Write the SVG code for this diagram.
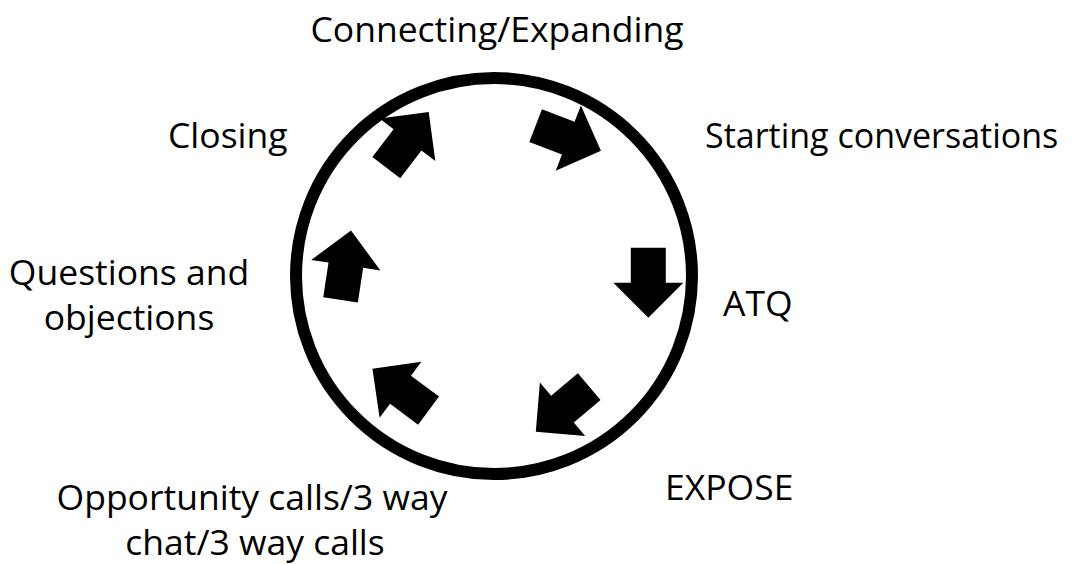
<svg xmlns="http://www.w3.org/2000/svg" width="1077" height="564" viewBox="0 0 1077 564">
<style>
text{font-family:"Open Sans","Noto Sans",sans-serif;font-size:35.5px;fill:#000}
.arrow{fill:#000}
</style>
<defs>
<path id="blk" d="M-17.5,-35 L17.5,-35 L17.5,0 L35,0 L0,35 L-35,0 L-17.5,0 Z"/>
</defs>
<rect width="1077" height="564" fill="#fff"/>
<g id="cycle">
<circle cx="494" cy="276" r="198" fill="none" stroke="#000" stroke-width="12"/>
</g>
<g id="connectors">
<use href="#blk" class="arrow" transform="translate(568.3,138.2) rotate(-68.9)"/>
<use href="#blk" class="arrow" transform="translate(648.3,282.7)"/>
<use href="#blk" class="arrow" transform="translate(562.5,409.2) rotate(49.7)"/>
<use href="#blk" class="arrow" transform="translate(400.5,389.7) rotate(126.7)"/>
<use href="#blk" class="arrow" transform="translate(345.8,265.2) rotate(-171.4)"/>
<use href="#blk" class="arrow" transform="translate(407.5,139.8) rotate(-142.7)"/>
</g>
<g id="n1"><text x="497" y="42" text-anchor="middle">Connecting/Expanding</text></g>
<g id="n2"><text x="705" y="148" style="font-size:34px">Starting conversations</text></g>
<g id="n3"><text x="723" y="316">ATQ</text></g>
<g id="n4"><text x="665" y="500">EXPOSE</text></g>
<g id="n5"><text x="252" y="510" text-anchor="middle">Opportunity calls/3 way</text><text x="255" y="555" text-anchor="middle">chat/3 way calls</text></g>
<g id="n6"><text x="129" y="285" text-anchor="middle">Questions and</text><text x="129" y="330" text-anchor="middle">objections</text></g>
<g id="n7"><text x="168" y="148">Closing</text></g>
</svg>
